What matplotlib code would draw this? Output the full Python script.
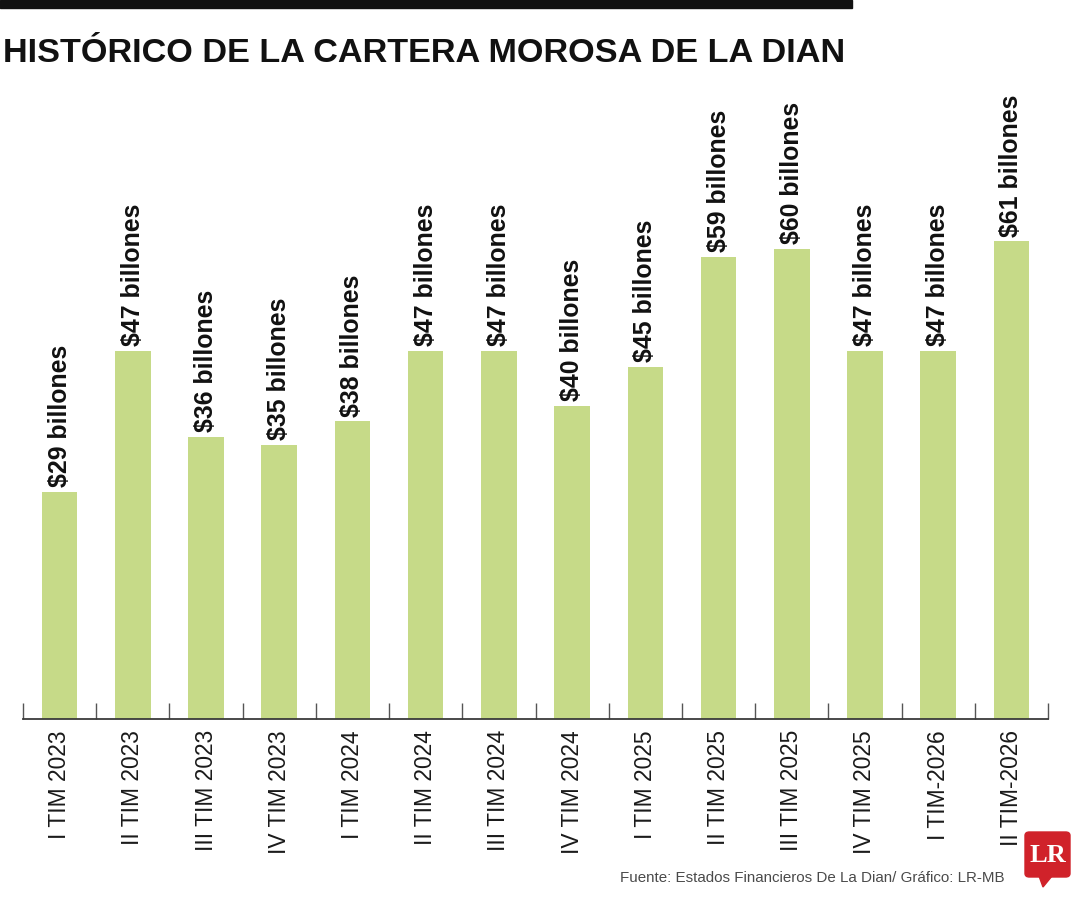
import matplotlib
matplotlib.use('Agg')
import matplotlib.pyplot as plt
from matplotlib import font_manager
from matplotlib.patches import FancyBboxPatch, Polygon

# datos: cartera morosa de la DIAN (billones de pesos)
periodos = ['I TIM 2023', 'II TIM 2023', 'III TIM 2023', 'IV TIM 2023',
            'I TIM 2024', 'II TIM 2024', 'III TIM 2024', 'IV TIM 2024',
            'I TIM 2025', 'II TIM 2025', 'III TIM 2025', 'IV TIM 2025',
            'I TIM-2026', 'II TIM-2026']
valores = [29, 47, 36, 35, 38, 47, 47, 40, 45, 59, 60, 47, 47, 61]
etiquetas = [f'${v} billones' for v in valores]

titulo = 'HISTÓRICO DE LA CARTERA MOROSA DE LA DIAN'
fuente = 'Fuente: Estados Financieros De La Dian/ Gráfico: LR-MB'

VERDE = '#c6da88'
ROJO = '#d0222a'

# la fuente condensada original no existe; se usa la mas estrecha disponible
nombres = {f.name for f in font_manager.fontManager.ttflist}
if 'Liberation Sans Narrow' in nombres:
    NARROW = ['Liberation Sans Narrow', 'DejaVu Sans']
else:
    NARROW = ['Liberation Sans', 'DejaVu Sans']

W, H = 1080, 900
fig = plt.figure(figsize=(W / 100, H / 100), dpi=100)
renderer = fig.canvas.get_renderer()


def fx(px):
    return px / W


def fy(py):
    return 1 - py / H


def ajustar(texto, largo_px, vertical=False):
    """escala el tamano de letra para que el texto mida largo_px"""
    bb = texto.get_window_extent(renderer=renderer)
    actual = bb.height if vertical else bb.width
    texto.set_fontsize(texto.get_fontsize() * largo_px / actual)
    return texto.get_fontsize()


# barra negra superior y titulo
fig.patches.append(plt.Rectangle((0, fy(8)), fx(852), 8 / H, transform=fig.transFigure,
                                 color='#111111', zorder=5))
t = fig.text(fx(3), fy(62), titulo, family=NARROW, fontweight='bold',
             fontsize=30, color='#111111', ha='left', va='baseline')
ajustar(t, 842)

# eje principal
base_y = 719
top_y = 90
ax = fig.add_axes([fx(23), fy(base_y), fx(1048) - fx(23), (base_y - top_y) / H])
px_por_unidad = 7.83
ax.set_ylim(0, (base_y - top_y) / px_por_unidad)
ax.set_xlim(-0.5, len(periodos) - 0.5)

x = list(range(len(periodos)))
ax.bar(x, valores, width=0.485, color=VERDE, zorder=2)

# tamano de las etiquetas de valor segun "$29 billones" (~142 px)
prueba = fig.text(0, 0, etiquetas[0], family=NARROW, fontweight='bold', fontsize=20,
                  rotation=90)
tam_valor = ajustar(prueba, 142, vertical=True)
prueba.remove()

for xi, v, lab in zip(x, valores, etiquetas):
    ax.annotate(lab, (xi, v), xytext=(0, 3.5), textcoords='offset points',
                rotation=90, ha='center', va='bottom', family=NARROW,
                fontweight='bold', fontsize=tam_valor, color='#111111')

for s in ['top', 'left', 'right']:
    ax.spines[s].set_visible(False)
ax.spines['bottom'].set_color('#3a3a3a')
ax.spines['bottom'].set_linewidth(1.3)
ax.set_yticks([])

# tamano de las etiquetas del eje segun "I TIM 2023" (~108 px)
prueba = fig.text(0, 0, periodos[0], family=NARROW, fontsize=20, rotation=90)
tam_eje = ajustar(prueba, 108, vertical=True)
prueba.remove()

ax.set_xticks(x)
ax.set_xticklabels(periodos, rotation=90, family=NARROW, fontsize=tam_eje,
                   color='#1a1a1a')
ax.tick_params(axis='x', which='major', length=0, pad=8)
ax.set_xticks([i - 0.5 for i in range(len(periodos) + 1)], minor=True)
ax.tick_params(axis='x', which='minor', direction='in', length=11.5, width=1,
               color='#555555')

# fuente
f = fig.text(fx(1005), fy(882), fuente, family=NARROW, fontsize=14,
             color='#4a4a4a', ha='right', va='baseline')
ajustar(f, 388)

# logo LR
logo = FancyBboxPatch((fx(1025), fy(877)), fx(1070) - fx(1025), (877 - 832) / H,
                      boxstyle='round,pad=0,rounding_size=0.004',
                      transform=fig.transFigure, color=ROJO, zorder=5)
fig.patches.append(logo)
cola = Polygon([(fx(1039), fy(876)), (fx(1052), fy(876)), (fx(1043), fy(887))],
               closed=True, transform=fig.transFigure, color=ROJO, zorder=5)
fig.patches.append(cola)
fig.text(fx(1047.5), fy(855), 'LR', family=['Liberation Serif', 'DejaVu Serif'],
         fontweight='bold', fontsize=19, color='white', ha='center', va='center',
         zorder=6)

fig.savefig('out.png', dpi=100, facecolor='white')
